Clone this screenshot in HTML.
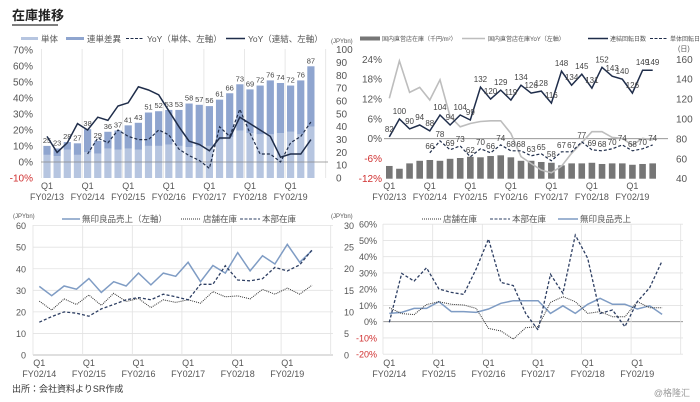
<!DOCTYPE html>
<html><head><meta charset="utf-8">
<style>
html,body{margin:0;padding:0;background:#fff;}
svg{display:block;font-family:"Liberation Sans","Noto Sans CJK JP",sans-serif;}
</style></head>
<body>
<svg id="c" width="700" height="402" viewBox="0 0 700 402">
<text x="12" y="20" font-size="13" font-weight="bold" fill="#222">在庫推移</text>
<line x1="12" y1="25" x2="58" y2="25" stroke="#333" stroke-width="1.2"/>
<text x="12" y="392" font-size="9" fill="#333">出所：会社資料よりSR作成</text>
<text x="690" y="396" font-size="9" fill="#999" text-anchor="end">@格隆汇</text>
</svg>
<script>
// ---- data: panel 1 (inventory JPYbn, YoY %) ----
const p1Total=[25,23,28,27,38,29,36,37,41,43,51,52,53,53,58,57,56,61,66,73,69,72,76,74,72,76,87];
const p1Single=[18,17,22,18,20,19,23,22,23,22,25,25,26,25,24,25,25,30,32,37,35,34,34,35,36,34,40];
const p1YoyCons=[16,6,12,24,20,28,26,35,37,47,45,42,32,22,13,11,7,15,15,28,24,20,16,3,5,5,14];
const p1YoySingle=[5,15,12,20,16,14,14,20,17,8,4,1,-4,22,16,33,18,5,5,0,12,16,25];
// ---- data: panel 2 ----
const p2Bars=[52.8,50,55.4,58,58.8,58,60,60.8,62,61.5,62.8,63.5,61.5,58,58,56.8,56,53.4,55.4,55.4,56,54.8,55.4,55.4,54,54.8,55.4];
const p2Yoy=[12.2,23.5,14,15.5,11.7,17.8,6.7,3.6,4.6,5.2,5.4,5.4,1.6,-5.4,-7.5,-9.5,-10.3,-8.3,-4.4,-1.2,2.1,2.1,0.4,0.1,-1.9,0.1,-0.4];
const p2DaysCons=[82,100,90,94,88,104,94,104,99,132,120,129,119,134,126,128,116,148,134,145,131,152,143,140,126,149,149];
const p2DaysSingle=[66,78,69,73,62,70,66,74,68,68,63,65,58,67,67,77,69,68,70,74,68,70,74];
// ---- data: panel 3 ----
const p3Sales=[31.8,27.5,32,30.5,35.5,29,34,32,38,32.5,38,36.5,43,34,41.5,38,47.5,39,46,42.2,51.3,43,48.5];
const p3Store=[12.5,10.4,13,11.7,13.9,11.5,14.3,12.4,13.1,11,12.8,12.2,12.8,12,14.7,13.5,13.7,13,15.2,14.1,15.5,14.1,16.2];
const p3HQ=[7.6,8.9,10,9.7,9,10.7,11.7,12.8,13.3,12.8,14.1,13.5,12.8,16.4,16.4,20.7,17.4,17.2,17.7,20.3,19.5,20.9,24.4];
// ---- data: panel 4 ----
const p4Store=[8.6,5,4.4,10.5,12.3,10.7,10.3,8.2,-4.1,-5.7,-10.7,-3.7,-3,11.9,15.4,12.3,5.1,6.2,3.1,3.1,12.3,8.6,8.6];
const p4HQ=[-0.4,29.7,25,33.2,20.1,18,16.8,32.4,50.9,24.2,22.2,5.1,-5.1,29.2,17.5,53.3,39,5.1,7.2,-3.1,12.3,20.9,37.4];
const p4Sales=[5.1,5.7,8.2,8.2,12.3,6.2,6.2,5.7,7.8,11.3,12.9,12.9,12.9,5.1,9.8,5.1,10.7,14.4,10.7,10.7,7.8,9.8,4.5];
// ---- ticks ----
const p1LeftTicks=[70,60,50,40,30,20,10,0,-10];
const p1RightTicks=[100,90,80,70,60,50,40,30,20,10,0];
const p2LeftTicks=[24,18,12,6,0,-6,-12];
const p2RightTicks=[160,140,120,100,80,60,40];
const p3LeftTicks=[60,50,40,30,20,10,0];
const p3RightTicks=[30,25,20,15,10,5,0];
const p4Ticks=[60,50,40,30,20,10,0,-10,-20];
const yearsA=["FY02/13","FY02/14","FY02/15","FY02/16","FY02/17","FY02/18","FY02/19"];
const yearsB=["FY02/14","FY02/15","FY02/16","FY02/17","FY02/18","FY02/19"];

const svg=document.getElementById('c');
const NS="http://www.w3.org/2000/svg";
function mk(tag,at,txt){const e=document.createElementNS(NS,tag);for(const k in at)e.setAttribute(k,at[k]);if(txt!==undefined)e.textContent=txt;svg.appendChild(e);return e;}
const GRID="#e2e2e2",TXT="#555",DARK="#1f2d4a",BLUE="#7f9cc4",LB="#b6c5e0",DB="#8fa5cf";
function path(xs,ys){return xs.map((x,i)=>(i?"L":"M")+x.toFixed(1)+","+ys[i].toFixed(1)).join(" ");}

// ===== Panel 1 =====
const x1=i=>47+10.15*i, yl1=v=>162-v*1.6, yr1=v=>178-v*1.284;
let e;
for(let k=0;k<=7;k++){e=mk('line',{x1:41.5+40.6*k,y1:49,x2:41.5+40.6*k,y2:178,stroke:GRID,'stroke-width':0.8});
}
p1LeftTicks.forEach(v=>{e=mk('text',{x:33,y:yl1(v)+3.5,'font-size':10,'text-anchor':'end',fill:v<0?'#d03030':TXT},v+'%');
});
p1RightTicks.forEach(v=>{e=mk('text',{x:336,y:yr1(v)+3.5,'font-size':10,fill:TXT},v);
});
p1Total.forEach((t,i)=>{const s=p1Single[i];
e=mk('rect',{x:x1(i)-3.6,y:yr1(s),width:7.2,height:yr1(0)-yr1(s),fill:LB});

e=mk('rect',{x:x1(i)-3.6,y:yr1(t),width:7.2,height:yr1(s)-yr1(t),fill:DB});

e=mk('text',{x:x1(i),y:yr1(t)-3,'font-size':7.5,'text-anchor':'middle',fill:'#444'},t);
});
e=mk('line',{x1:41,y1:yl1(0),x2:328,y2:yl1(0),stroke:'#888','stroke-width':0.8});

e=mk('path',{d:path(p1YoyCons.map((v,i)=>x1(i)),p1YoyCons.map(yl1)),fill:'none',stroke:DARK,'stroke-width':1.5});

e=mk('path',{d:path(p1YoySingle.map((v,i)=>x1(i+4)),p1YoySingle.map(yl1)),fill:'none',stroke:DARK,'stroke-width':1.2,'stroke-dasharray':'3,2'});

yearsA.forEach((y,k)=>{e=mk('text',{x:x1(4*k),y:189,'font-size':9,'text-anchor':'middle',fill:TXT},'Q1');

e=mk('text',{x:x1(4*k),y:200,'font-size':9,'text-anchor':'middle',fill:TXT},y);
});
e=mk('rect',{x:21,y:37,width:17,height:3,fill:LB});
e=mk('text',{x:41,y:42,'font-size':8.5,fill:TXT},'単体');
e=mk('rect',{x:66,y:37,width:18,height:3,fill:DB});
e=mk('text',{x:87,y:42,'font-size':8.5,fill:TXT},'連単差異');
e=mk('line',{x1:126,y1:38.5,x2:144,y2:38.5,stroke:DARK,'stroke-dasharray':'3,1.5'});
e=mk('text',{x:147,y:42,'font-size':8.5,fill:TXT},'YoY（単体、左軸）');
e=mk('line',{x1:226,y1:38.5,x2:245,y2:38.5,stroke:DARK,'stroke-width':1.5});
e=mk('text',{x:248,y:42,'font-size':8.5,fill:TXT},'YoY（連結、左軸）');
e=mk('text',{x:331,y:43,'font-size':6,fill:TXT},'(JPYbn)');

// ===== Panel 2 =====
const x2=i=>389.3+10.13*i, yl2=v=>138.7-v*3.31, yr2=v=>178.7-(v-40)*0.995;
p2LeftTicks.forEach(v=>{e=mk('text',{x:382,y:yl2(v)+3.5,'font-size':10,'text-anchor':'end',fill:v<0?'#d03030':TXT},v+'%');
});
p2RightTicks.forEach(v=>{e=mk('text',{x:676,y:yr2(v)+3.5,'font-size':10,fill:TXT},v);
});
p2Bars.forEach((v,i)=>{e=mk('rect',{x:x2(i)-3.3,y:yr2(v),width:6.6,height:yr2(40)-yr2(v),fill:'#767676'});
});
e=mk('line',{x1:384,y1:yl2(0),x2:668,y2:yl2(0),stroke:'#888','stroke-width':0.8});

e=mk('path',{d:path(p2Yoy.map((v,i)=>x2(i)),p2Yoy.map(yl2)),fill:'none',stroke:'#bdbdbd','stroke-width':1.6});

e=mk('path',{d:path(p2DaysCons.map((v,i)=>x2(i)),p2DaysCons.map(yr2)),fill:'none',stroke:DARK,'stroke-width':1.5});

e=mk('path',{d:path(p2DaysSingle.map((v,i)=>x2(i+4)),p2DaysSingle.map(yr2)),fill:'none',stroke:DARK,'stroke-width':1.2,'stroke-dasharray':'3,2'});

p2DaysCons.forEach((v,i)=>{e=mk('text',{x:x2(i),y:yr2(v)-5,'font-size':8,'text-anchor':'middle',fill:'#444'},v);
});
p2DaysSingle.forEach((v,i)=>{e=mk('text',{x:x2(i+4),y:yr2(v)-4,'font-size':8,'text-anchor':'middle',fill:'#444'},v);
});
yearsA.forEach((y,k)=>{e=mk('text',{x:x2(4*k),y:189,'font-size':9,'text-anchor':'middle',fill:TXT},'Q1');

e=mk('text',{x:x2(4*k),y:200,'font-size':9,'text-anchor':'middle',fill:TXT},y);
});
e=mk('text',{x:678,y:51,'font-size':7,fill:TXT},'(日)');
e=mk('rect',{x:360,y:36.5,width:20,height:4,fill:'#767676'});
e=mk('text',{x:382,y:41,'font-size':6,fill:TXT},'国内直営店在庫（千円/m²）');
e=mk('line',{x1:462,y1:38.5,x2:485,y2:38.5,stroke:'#bdbdbd','stroke-width':1.5});
e=mk('text',{x:488,y:41,'font-size':6,fill:TXT},'国内直営店在庫YoY（左軸）');
e=mk('line',{x1:588,y1:38.5,x2:608,y2:38.5,stroke:DARK,'stroke-width':1.5});
e=mk('text',{x:610,y:41,'font-size':6,fill:TXT},'連結回転日数');
e=mk('line',{x1:650,y1:38.5,x2:668,y2:38.5,stroke:DARK,'stroke-dasharray':'3,1.5'});
e=mk('text',{x:670,y:41,'font-size':6,fill:TXT},'単体回転日数');

// ===== Panel 3 =====
const x3=i=>39.3+12.4*i, yl3=v=>355-v*2.156, yr3=v=>355-v*4.313;
p3LeftTicks.forEach(v=>{e=mk('line',{x1:33,y1:yl3(v),x2:333,y2:yl3(v),stroke:v===0?'#aaa':GRID,'stroke-width':0.8});

e=mk('text',{x:26,y:yl3(v)+3.5,'font-size':9,'text-anchor':'end',fill:TXT},v);
});
p3RightTicks.forEach(v=>{e=mk('text',{x:344,y:yr3(v)+3.5,'font-size':9,fill:TXT},v);
});
for(let k=0;k<=6;k++){const gx=k===0?33:x3(4*k)-6.2;e=mk('line',{x1:gx,y1:225,x2:gx,y2:355,stroke:GRID,'stroke-width':0.8});
}
e=mk('path',{d:path(p3Sales.map((v,i)=>x3(i)),p3Sales.map(yl3)),fill:'none',stroke:BLUE,'stroke-width':1.5});

e=mk('path',{d:path(p3Store.map((v,i)=>x3(i)),p3Store.map(yr3)),fill:'none',stroke:'#333','stroke-width':1,'stroke-dasharray':'1,1'});

e=mk('path',{d:path(p3HQ.map((v,i)=>x3(i)),p3HQ.map(yr3)),fill:'none',stroke:'#2e3f63','stroke-width':1.3,'stroke-dasharray':'3,2'});

yearsB.forEach((y,k)=>{e=mk('text',{x:x3(4*k),y:366,'font-size':9,'text-anchor':'middle',fill:TXT},'Q1');

e=mk('text',{x:x3(4*k),y:377,'font-size':9,'text-anchor':'middle',fill:TXT},y);
});
e=mk('text',{x:13,y:218,'font-size':6,fill:TXT},'(JPYbn)');
e=mk('text',{x:331,y:218,'font-size':6,fill:TXT},'(JPYbn)');
e=mk('line',{x1:62,y1:219,x2:80,y2:219,stroke:BLUE,'stroke-width':1.5});
e=mk('text',{x:82,y:222,'font-size':8.5,fill:TXT},'無印良品売上（左軸）');
e=mk('line',{x1:181,y1:219,x2:201,y2:219,stroke:'#333','stroke-dasharray':'1,1'});
e=mk('text',{x:203,y:222,'font-size':8.5,fill:TXT},'店舗在庫');
e=mk('line',{x1:240,y1:219,x2:260,y2:219,stroke:'#2e3f63','stroke-dasharray':'3,1.5'});
e=mk('text',{x:262,y:222,'font-size':8.5,fill:TXT},'本部在庫');

// ===== Panel 4 =====
const x4=i=>389.3+12.4*i, y4=v=>321.7-v*1.625;
p4Ticks.forEach(v=>{e=mk('line',{x1:383,y1:y4(v),x2:683,y2:y4(v),stroke:v===0?'#888':GRID,'stroke-width':0.8});

e=mk('text',{x:377,y:y4(v)+3.5,'font-size':9,'text-anchor':'end',fill:v<0?'#d03030':TXT},v+'%');
});
for(let k=0;k<=6;k++){const gx=k===0?383:x4(4*k)-6.2;e=mk('line',{x1:gx,y1:224,x2:gx,y2:354,stroke:GRID,'stroke-width':0.8});
}
e=mk('path',{d:path(p4Sales.map((v,i)=>x4(i)),p4Sales.map(y4)),fill:'none',stroke:BLUE,'stroke-width':1.5});

e=mk('path',{d:path(p4Store.map((v,i)=>x4(i)),p4Store.map(y4)),fill:'none',stroke:'#333','stroke-width':1,'stroke-dasharray':'1,1'});

e=mk('path',{d:path(p4HQ.map((v,i)=>x4(i)),p4HQ.map(y4)),fill:'none',stroke:'#2e3f63','stroke-width':1.3,'stroke-dasharray':'3,2'});

yearsB.forEach((y,k)=>{e=mk('text',{x:x4(4*k),y:366,'font-size':9,'text-anchor':'middle',fill:TXT},'Q1');

e=mk('text',{x:x4(4*k),y:377,'font-size':9,'text-anchor':'middle',fill:TXT},y);
});
e=mk('line',{x1:422,y1:219,x2:441,y2:219,stroke:'#333','stroke-dasharray':'1,1'});
e=mk('text',{x:443,y:222,'font-size':8.5,fill:TXT},'店舗在庫');
e=mk('line',{x1:490,y1:219,x2:510,y2:219,stroke:'#2e3f63','stroke-dasharray':'3,1.5'});
e=mk('text',{x:512,y:222,'font-size':8.5,fill:TXT},'本部在庫');
e=mk('line',{x1:558,y1:219,x2:578,y2:219,stroke:BLUE,'stroke-width':1.5});
e=mk('text',{x:580,y:222,'font-size':8.5,fill:TXT},'無印良品売上');
</script>
</body></html>
